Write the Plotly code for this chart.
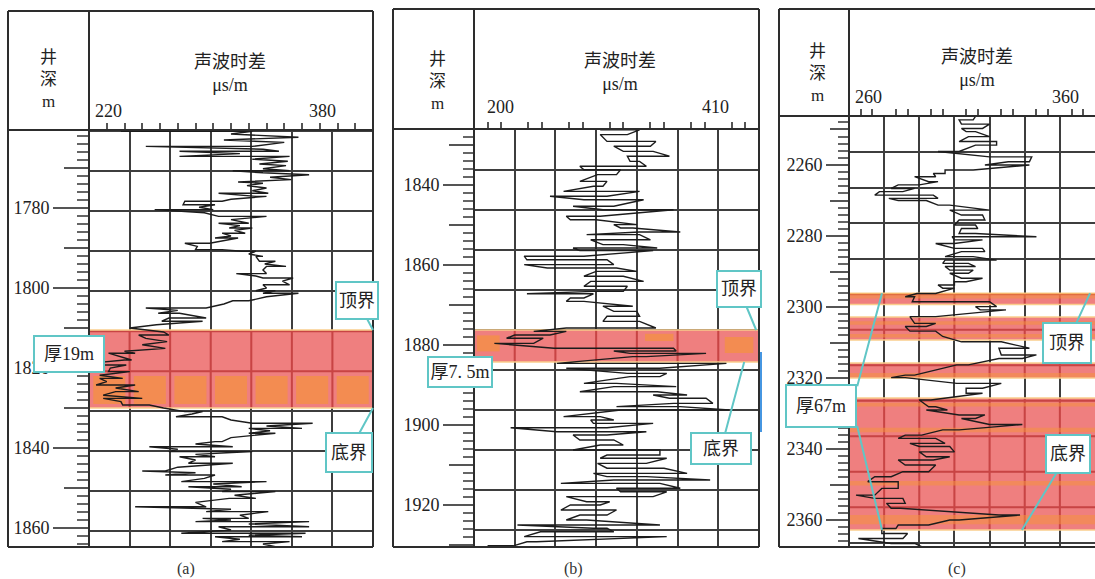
import plotly.graph_objects as go

W, H = 1095, 579

# ---------------- sonic log, well (a) ----------------
depth_a = [
    1760.8, 1760.8, 1761.5, 1762.3, 1763.0, 1763.6, 1764.6, 1764.6, 1765.3, 1765.8,
    1765.8, 1766.4, 1767.1, 1767.1, 1767.8, 1768.3, 1769.0, 1769.4, 1770.2, 1770.7,
    1770.7, 1771.2, 1771.7, 1772.3, 1772.9, 1773.5, 1773.8, 1774.4, 1775.0, 1775.7,
    1776.3, 1776.3, 1777.1, 1777.1, 1777.8, 1778.3, 1778.3, 1779.2, 1779.2, 1779.8,
    1780.4, 1780.4, 1781.2, 1782.1, 1782.1, 1782.9, 1783.8, 1783.8, 1784.4, 1785.0,
    1785.0, 1785.6, 1786.3, 1786.3, 1787.0, 1787.5, 1787.5, 1788.2, 1788.8, 1788.8,
    1789.6, 1790.4, 1790.4, 1790.8, 1790.8, 1791.5, 1792.1, 1792.1, 1792.7, 1793.3,
    1793.3, 1794.0, 1794.6, 1794.6, 1795.5, 1796.4, 1796.4, 1797.0, 1797.5, 1797.5,
    1798.3, 1799.2, 1799.2, 1800.0, 1800.7, 1800.7, 1801.3, 1801.3, 1802.2, 1803.2,
    1803.2, 1804.0, 1805.0, 1805.0, 1805.6, 1806.3, 1806.3, 1807.0, 1807.5, 1807.5,
    1808.3, 1808.3, 1809.2, 1810.0,
    1811.0, 1811.75, 1811.75, 1812.6, 1813.4, 1814.2, 1815.1, 1815.8, 1816.3, 1816.3,
    1817.2, 1818.0, 1818.0, 1818.6, 1819.25, 1819.25, 1820.0, 1820.9, 1820.9, 1821.8,
    1822.6, 1822.6, 1823.4, 1824.25, 1824.25, 1825.0, 1825.9, 1825.9, 1826.8, 1827.6,
    1827.6, 1828.4, 1829.25, 1829.25, 1830.0,
    1830.9, 1830.9, 1831.5, 1832.2, 1832.2, 1833.0, 1833.8, 1833.8, 1834.5, 1835.1,
    1835.1, 1835.7, 1836.3, 1836.3, 1837.4, 1838.4, 1838.4, 1839.0, 1839.7, 1839.7,
    1840.3, 1840.9, 1840.9, 1841.6, 1842.2, 1842.2, 1843.0, 1843.8, 1843.8, 1844.8,
    1845.75, 1845.75, 1846.2, 1846.75, 1846.75, 1847.6, 1848.4, 1848.4, 1849.0, 1849.7,
    1849.7, 1850.3, 1850.9, 1850.9, 1851.8, 1852.6, 1852.6, 1853.6, 1854.7, 1854.7,
    1855.3, 1855.9, 1855.9, 1856.8, 1857.6, 1857.6, 1858.0, 1858.4, 1858.4, 1859.0,
    1859.7, 1859.7, 1860.5, 1861.3, 1861.3, 1861.8, 1862.2, 1862.2, 1862.8, 1863.4,
    1863.4, 1864.0, 1864.7, 1864.7,
]
dt_a = [
    238, 312, 300, 338, 296, 330, 312, 252, 318, 327,
    271, 305, 271, 333, 312, 332, 316, 331, 318, 333,
    301, 318, 344, 322, 334, 304, 318, 309, 320, 312,
    321, 293, 314, 320, 300, 295, 274, 273, 291, 282,
    290, 257, 285, 293, 320, 300, 310, 293, 305, 299,
    312, 302, 308, 295, 300, 291, 304, 296, 288, 274,
    281, 280, 295, 306, 314, 310, 318, 314, 315, 316,
    325, 319, 331, 320, 318, 320, 303, 314, 318, 335,
    329, 333, 318, 320, 314, 325, 318, 338, 320, 310,
    301, 296, 286, 252, 270, 259, 271, 280, 286, 265,
    261, 284, 258, 243,
    262, 265, 248, 252, 264, 250, 263, 240, 246, 231,
    238, 244, 240, 226, 224, 241, 232, 231, 243, 226,
    239, 226, 230, 224, 246, 235, 248, 235, 228, 250,
    228, 238, 239, 254, 262,
    274, 284, 278, 269, 295, 300, 312, 346, 320, 340,
    310, 322, 310, 325, 300, 295, 291, 280, 301, 254,
    270, 265, 312, 280, 291, 271, 280, 276, 301, 270,
    263, 250, 280, 263, 291, 285, 272, 320, 290, 306,
    276, 300, 295, 325, 302, 314, 299, 280, 286, 246,
    300, 286, 321, 305, 310, 284, 300, 280, 344, 310,
    344, 293, 300, 272, 342, 310, 340, 291, 305, 295,
    333, 318, 325, 331,
]

# ---------------- sonic log, well (b): depth levels and swing at each level ----------------
depth_b = [
    1826.2, 1827.4, 1829.1, 1830.3, 1831.6, 1832.8, 1834.1, 1835.3, 1836.2, 1837.4,
    1839.1, 1840.3, 1841.6, 1842.8, 1843.7, 1845.3, 1846.2, 1847.8, 1848.7, 1849.9,
    1850.75, 1851.75, 1852.4, 1853.7, 1854.9, 1855.75, 1856.4, 1857.8, 1858.7, 1859.9,
    1860.75, 1861.6, 1862.8, 1864.1, 1865.3, 1866.6, 1867.2, 1868.25, 1869.1, 1870.3,
    1871.6, 1872.8, 1874.1, 1875.75, 1876.6, 1877.5, 1878.3, 1879.6, 1880.8, 1881.5,
    1882.1, 1882.9, 1884.6, 1885.8, 1887.1, 1887.9, 1889.6, 1890.4, 1891.7, 1892.5,
    1893.3, 1894.6, 1895.4, 1896.25, 1897.9, 1898.75, 1899.6, 1900.7, 1901.7, 1902.5,
    1903.75, 1905.0, 1906.25, 1907.5, 1908.3, 1909.6, 1910.8, 1912.1, 1912.9, 1913.75,
    1914.6, 1915.8, 1916.7, 1917.9, 1919.2, 1920.0, 1921.25, 1922.5, 1923.75, 1925.0,
    1925.8, 1926.7, 1927.9, 1929.2, 1930.2,
]
dt_b = [
    [293, 322], [313, 293], [298, 334], [330, 303], [310, 332], [344, 313], [315, 322], [327, 278], [281, 308], [305, 291],
    [278, 298], [295, 288], [266, 322], [298, 256], [281, 325], [303, 273], [295, 347], [293, 268], [271, 290], [320, 303],
    [308, 317], [352, 322], [283, 322], [330, 286], [295, 310], [335, 273], [278, 332], [281, 237], [239, 298], [303, 237],
    [254, 305], [320, 290], [281, 310], [325, 286], [281, 313], [310, 288], [239, 288], [281, 271], [268, 281], [317, 295],
    [303, 320], [322, 298], [295, 322], [334, 268], [244, 268], [256, 230], [224, 251], [244, 215], [259, 347], [349, 303],
    [315, 371], [327, 317], [261, 386], [337, 268], [313, 342], [337, 315], [281, 305], [349, 303], [278, 335], [357, 332],
    [344, 371], [376, 347], [305, 352], [388, 308], [266, 293], [303, 286], [288, 332], [298, 227], [261, 327], [298, 273],
    [278, 303], [310, 293], [273, 337], [337, 298], [293, 342], [327, 291], [298, 340], [357, 288], [298, 327], [374, 303],
    [264, 337], [352, 305], [308, 342], [332, 268], [283, 300], [293, 271], [264, 305], [298, 278], [268, 283], [337, 232],
    [288, 298], [303, 249], [237, 342], [246, 239], [229, 210],
]

# ---------------- sonic log, well (c) ----------------
depth_c = [
    2246.3, 2247.3, 2248.5, 2249.7, 2250.6, 2252.0, 2253.4, 2254.4, 2256.2, 2257.7,
    2259.1, 2260.0, 2261.4, 2262.4, 2263.3, 2264.7, 2265.6, 2266.6, 2267.5, 2268.5,
    2269.4, 2270.0, 2271.3, 2272.7, 2274.1, 2275.5, 2276.9, 2277.9, 2279.3, 2280.2,
    2281.1, 2282.1, 2283.5, 2284.4, 2285.8, 2286.8, 2287.7, 2288.6, 2289.6, 2290.5,
    2291.9, 2292.9, 2293.8, 2294.7, 2296.2, 2297.1, 2298.5, 2299.9, 2300.8, 2302.7,
    2304.6, 2305.5, 2306.8, 2308.3, 2309.8, 2311.6, 2313.5, 2314.5, 2316.3, 2319.2,
    2319.9, 2321.5, 2322.9, 2324.3, 2326.2, 2328.1, 2329.0, 2330.4, 2331.4, 2333.1,
    2334.6, 2336.1, 2337.0, 2338.4, 2339.3, 2340.8, 2342.2, 2343.1, 2344.5, 2346.4,
    2347.8, 2349.2, 2351.1, 2353.0, 2353.9, 2355.3, 2356.7, 2358.6, 2360.0, 2361.4,
    2362.4, 2363.8, 2365.2, 2366.6, 2367.5,
]
dt_c = [
    [293, 314], [313, 307], [308, 320], [317, 308], [310, 314], [320, 311], [307, 323], [323, 314], [307, 298], [320, 338],
    [337, 328], [318, 337], [313, 301], [301, 296], [297, 288], [294, 298], [290, 281], [278, 288], [283, 273], [271, 296],
    [298, 277], [281, 293], [298, 303], [320, 303], [308, 317], [318, 307], [305, 314], [315, 308], [307, 314], [340, 304],
    [305, 317], [305, 297], [305, 317], [318, 308], [301, 313], [323, 301], [300, 311], [314, 301], [303, 313], [311, 303],
    [308, 317], [310, 305], [305, 298], [300, 305], [297, 289], [284, 288], [287, 320], [323, 314], [316, 327], [297, 286],
    [288, 297], [293, 284], [286, 297], [300, 300], [308, 325], [337, 324], [325, 340], [334, 324], [311, 306], [288, 284],
    [278, 284], [306, 325], [317, 310], [310, 317], [295, 290], [294, 297], [302, 293], [307, 318], [314, 308], [320, 334],
    [307, 300], [291, 284], [281, 297], [301, 286], [290, 303], [305, 290], [293, 303], [296, 281], [284, 297], [294, 283],
    [278, 271], [268, 281], [281, 274], [271, 263], [271, 283], [284, 276], [278, 282], [324, 333], [307, 303], [294, 281],
    [280, 274], [274, 285], [283, 264], [278, 288], [291, 298],
]

# reservoir intervals (top, bottom) in metres
layers_a = [(1810.5, 1830.0)]
layers_b = [(1876.25, 1884.25)]
layers_c = [(2296.1, 2299.3), (2302.8, 2309.3), (2315.8, 2320.0), (2325.6, 2362.8)]

scale_labels = [("220", "380"), ("200", "410"), ("260", "360")]
captions = ["(a)", "(b)", "(c)"]
thickness_labels = ["厚19m", "厚7. 5m", "厚67m"]
depth_title = "井<br>深<br>m"
curve_title = "声波时差<br>μs/m"
TOP_TXT, BASE_TXT = "顶界", "底界"


def flatten(levels, swings):
    ys, xs = [], []
    for d, pair in zip(levels, swings):
        for v in pair:
            ys.append(d)
            xs.append(v)
    return ys, xs


def fx(p):
    return p / W


def fy(p):
    return 1 - p / H


SERIF = "Liberation Serif, Noto Sans CJK SC, serif"
GRID = "rgb(62,62,62)"
RED_GRID = "rgb(200,68,68)"
FRAME = "rgb(45,45,45)"
TEAL = "rgb(96,198,198)"
PINK = "rgba(238,122,122,0.96)"
ORANGE = "rgba(244,146,64,0.72)"
EDGE = "rgb(250,206,140)"
BOTTOM = 547

yb, xb = flatten(depth_b, dt_b)
yc, xc = flatten(depth_c, dt_c)
logs = [(depth_a, dt_a), (yb, xb), (yc, xc)]
layers = [layers_a, layers_b, layers_c]

panels = [
    dict(n="", track=(89, 373), top=130, frame=(8, 11, 373), xr=[220, 380], xminor=10,
         yr=[1864.75, 1760.5], lab0=1780, mid0=1790, grid0=1770.8, tl=35, ml=24, nl=11,
         hdr=dict(jx=48, jy=80, tx=230, ty=74, sx=(108, 323), sy=111, cap=186)),
    dict(n="2", track=(474, 759), top=129, frame=(393, 9, 759), xr=[200, 410], xminor=10,
         yr=[1930.5, 1826.0], lab0=1840, mid0=1830, grid0=1836.25, tl=30, ml=24, nl=10,
         hdr=dict(jx=437, jy=81, tx=620, ty=72, sx=(500, 715), sy=107, cap=573)),
    dict(n="3", track=(849, 1095), top=116, frame=(779, 9, 1096), xr=[260, 365], xminor=5,
         yr=[2367.6, 2246.2], lab0=2260, mid0=2250, grid0=2256.4, tl=22, ml=18, nl=10,
         hdr=dict(jx=817, jy=74, tx=977, ty=69, sx=(868, 1065), sy=97, cap=957)),
]

fig = go.Figure()
layout = dict(width=W, height=H, margin=dict(l=0, r=0, t=0, b=0), paper_bgcolor="white",
              plot_bgcolor="white", showlegend=False)
shapes, annotations = [], []


def xdom(i, f):
    lo, hi = panels[i]["xr"]
    return lo + f * (hi - lo)


def header_text(text, x, y, size=18):
    return dict(text=text, x=fx(x), y=fy(y), xref="paper", yref="paper", showarrow=False,
                font=dict(family=SERIF, size=size, color="#222"), xanchor="center", yanchor="middle",
                borderpad=0)


for i, p in enumerate(panels):
    n = p["n"]
    xref, yref = "x" + n, "y" + n
    mid_id, grid_id = str(i + 4), str(i + 7)
    t0, t1 = p["track"]
    xr, yr = p["xr"], p["yr"]
    xstep = (xr[1] - xr[0]) / 7

    layout["xaxis" + n] = dict(
        domain=[fx(t0), min(fx(t1), 1.0)], range=xr, anchor=yref, side="top",
        showticklabels=False, ticks="", tickmode="linear", tick0=xr[0], dtick=xstep,
        showgrid=True, gridcolor=GRID, gridwidth=2, zeroline=False, showline=False,
        minor=dict(ticks="outside", ticklen=6, tickwidth=1.5, tickcolor="#555", tickmode="linear",
                   tick0=xr[0], dtick=p["xminor"], showgrid=False),
    )
    layout["yaxis" + n] = dict(
        domain=[fy(BOTTOM), fy(p["top"])], range=yr, anchor=xref, side="left",
        tickmode="linear", tick0=p["lab0"], dtick=20, ticks="outside", ticklen=p["tl"], tickwidth=2,
        tickcolor="#555", showgrid=False, zeroline=False, showline=False,
        tickfont=dict(family=SERIF, size=18, color="#222"),
        minor=dict(ticks="outside", ticklen=p["nl"], tickwidth=2, tickcolor="#666", tickmode="linear",
                   tick0=0, dtick=2, showgrid=False),
    )
    layout["yaxis" + mid_id] = dict(
        overlaying=yref, anchor=xref, side="left", range=yr, tickmode="linear", tick0=p["mid0"], dtick=20,
        ticks="outside", ticklen=p["ml"], tickwidth=2, tickcolor="#555", showticklabels=False,
        showgrid=False, zeroline=False, showline=False,
    )
    layout["yaxis" + grid_id] = dict(
        overlaying=yref, anchor=xref, side="left", range=yr, tickmode="linear", tick0=p["grid0"], dtick=10,
        ticks="", showticklabels=False, showgrid=True, gridcolor=GRID, gridwidth=2, zeroline=False, showline=False,
    )
    for extra in (mid_id, grid_id):
        fig.add_trace(go.Scatter(x=[None], y=[None], xaxis=xref, yaxis="y" + extra, hoverinfo="skip"))

    # the sonic curve
    dep, val = logs[i]
    fig.add_trace(go.Scatter(x=val, y=dep, mode="lines", xaxis=xref, yaxis=yref, hoverinfo="skip",
                             line=dict(color="rgb(28,28,28)", width=1.4)))

    # reservoir shading (between grid and curve), with the grid re-drawn in red on it
    ylo, yhi = min(yr), max(yr)
    hgrid = [p["grid0"] + 10 * k for k in range(-2, 14)]
    for top, base in layers[i]:
        shapes.append(dict(type="rect", xref=xref, yref=yref, x0=xr[0], x1=xr[1], y0=top, y1=base,
                           fillcolor=PINK, line=dict(width=0), layer="between"))
        for k in range(1, 7):
            xv = xr[0] + k * xstep
            shapes.append(dict(type="line", xref=xref, yref=yref, x0=xv, x1=xv, y0=top, y1=base,
                               line=dict(color=RED_GRID, width=2), layer="between"))
        for g in hgrid:
            if top < g < base and ylo < g < yhi:
                shapes.append(dict(type="line", xref=xref, yref=yref, x0=xr[0], x1=xr[1], y0=g, y1=g,
                                   line=dict(color=RED_GRID, width=2), layer="between"))
        for d in (top, base):
            shapes.append(dict(type="line", xref=xref, yref=yref, x0=xr[0], x1=xr[1], y0=d, y1=d,
                               line=dict(color=EDGE, width=1.5), layer="between"))

    # frame of the panel
    fl, ft, fr = p["frame"]
    for x0, y0, x1, y1 in [(fl, ft, fr, ft), (fl, BOTTOM, fr, BOTTOM), (fl, ft, fl, BOTTOM),
                           (fr, ft, fr, BOTTOM), (fl, p["top"], fr, p["top"]), (t0, ft, t0, BOTTOM)]:
        shapes.append(dict(type="line", xref="paper", yref="paper", x0=fx(x0), x1=fx(x1), y0=fy(y0), y1=fy(y1),
                           line=dict(color=FRAME, width=2), layer="above"))

    # header texts
    h = p["hdr"]
    annotations.append(header_text(depth_title, h["jx"], h["jy"], 17))
    annotations.append(header_text(curve_title, h["tx"], h["ty"], 18))
    for lab, sx in zip(scale_labels[i], h["sx"]):
        annotations.append(header_text(lab, sx, h["sy"], 18))
    annotations.append(dict(text=captions[i], x=fx(h["cap"]), y=0, xref="paper", yref="paper",
                            showarrow=False, font=dict(family=SERIF, size=16, color="#333"),
                            xanchor="center", yanchor="bottom", borderpad=0))

# orange texture inside the shaded intervals
for k in range(7):
    shapes.append(dict(type="rect", xref="x", yref="y", x0=xdom(0, k / 7 + 0.015), x1=xdom(0, (k + 1) / 7 - 0.015),
                       y0=1822.0, y1=1829.0, fillcolor=ORANGE, line=dict(width=0), layer="between"))
for f0, f1, d0, d1 in [(0.01, 0.09, 1877.6, 1881.6), (0.6, 0.7, 1877.2, 1879.0), (0.88, 0.98, 1878.0, 1882.0)]:
    shapes.append(dict(type="rect", xref="x2", yref="y2", x0=xdom(1, f0), x1=xdom(1, f1), y0=d0, y1=d1,
                       fillcolor=ORANGE, line=dict(width=0), layer="between"))
for d0, d1 in [(2296.1, 2297.6), (2304.0, 2305.0), (2307.6, 2308.6), (2318.6, 2319.8),
               (2327.0, 2328.0), (2334.0, 2335.3), (2349.0, 2350.3), (2358.6, 2361.2)]:
    shapes.append(dict(type="rect", xref="x3", yref="y3", x0=xdom(2, 0), x1=xdom(2, 1), y0=d0, y1=d1,
                       fillcolor="rgba(244,146,64,0.55)", line=dict(width=0), layer="between"))

# blue marker at the right edge of track (b)
shapes.append(dict(type="line", xref="paper", yref="paper", x0=fx(761), x1=fx(761), y0=fy(352), y1=fy(432),
                   line=dict(color="rgb(70,150,225)", width=2), layer="above"))


def box(text, cx, cy, w, h):
    return dict(text=text, x=fx(cx), y=fy(cy), xref="paper", yref="paper", showarrow=False, width=w, height=h,
                bgcolor="white", bordercolor=TEAL, borderwidth=2, borderpad=1,
                font=dict(family=SERIF, size=18, color="#222"), xanchor="center", yanchor="middle")


def callout(text, xr_, yr_, xd, depth, ax, ay, w, h):
    return dict(text=text, x=xd, y=depth, xref=xr_ + " domain", yref=yr_, showarrow=True, arrowhead=0,
                arrowwidth=2, arrowcolor=TEAL, ax=ax, ay=ay, width=w, height=h, bgcolor="white",
                bordercolor=TEAL, borderwidth=2, borderpad=1, font=dict(family=SERIF, size=18, color="#222"))


def leader(xr_, yr_, xd, depth, ax, ay):
    return dict(text=" ", x=xd, y=depth, xref=xr_ + " domain", yref=yr_, showarrow=True, arrowhead=0,
                arrowwidth=2, arrowcolor=TEAL, ax=ax, ay=ay, font=dict(size=1), borderpad=0)


annotations += [
    box(thickness_labels[0], 69, 354, 66, 32),
    callout(TOP_TXT, "x", "y", 1.0, layers_a[0][0], -16, -30, 38, 33),
    callout(BASE_TXT, "x", "y", 1.0, layers_a[0][1], -24, 44, 42, 35),
    box(thickness_labels[1], 460, 372, 60, 26),
    callout(TOP_TXT, "x2", "y2", 0.99, layers_b[0][0], -17, -41, 40, 32),
    callout(BASE_TXT, "x2", "y2", 0.948, layers_b[0][1], -23, 86, 56, 27),
    callout(TOP_TXT, "x3", "y3", 0.98, layers_c[0][0], -23, 50, 44, 36),
    callout(BASE_TXT, "x3", "y3", 0.703, layers_c[-1][1], 46, -76, 40, 34),
    box(thickness_labels[2], 821, 406, 66, 38),
    leader("x3", "y3", 0.134, layers_c[0][0], -25, 94),
    leader("x3", "y3", 0.134, layers_c[-1][1], -25, -105),
]

layout["shapes"] = shapes
layout["annotations"] = annotations
fig.update_layout(**layout)
fig.write_html("out.html")
